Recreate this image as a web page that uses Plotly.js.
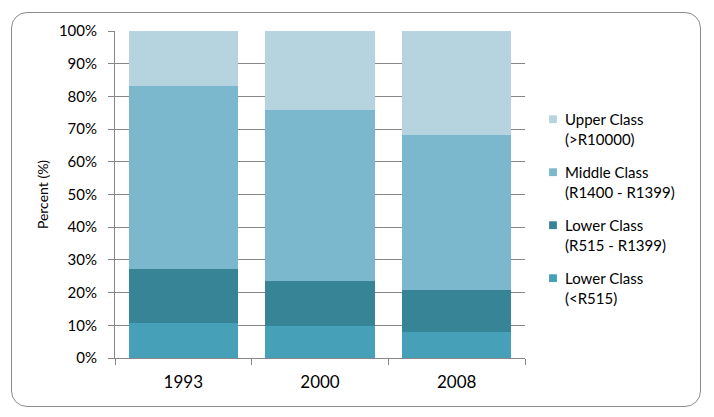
<!DOCTYPE html>
<html><head><meta charset="utf-8">
<script src="https://cdn.plot.ly/plotly-3.0.1.min.js"></script>
<style>
html,body{margin:0;padding:0;background:#fff;}
#frame{position:absolute;left:11px;top:12px;width:690px;height:395px;border:1px solid #8c8c8c;border-radius:16px;box-sizing:border-box;}
#chart{position:absolute;left:0;top:0;width:714px;height:417px;}
</style></head>
<body>
<div id="frame"></div>
<div id="chart"></div>
<script>
const years = ["1993", "2000", "2008"];
const lowerPoor = [10.7, 9.8, 8.0];
const lowerMid = [16.5, 13.7, 12.8];
const middle = [55.9, 52.3, 47.4];
const upper = [16.9, 24.2, 31.8];
const seriesNames = ["Lower Class<br>(<R515)", "Lower Class<br>(R515 - R1399)", "Middle Class<br>(R1400 - R1399)", "Upper Class<br>(>R10000)"];
const seriesColors = ["#46A0B8", "#388497", "#7BB8CE", "#B5D4DF"];
const seriesValues = [lowerPoor, lowerMid, middle, upper];
const yTickVals = [0,10,20,30,40,50,60,70,80,90,100];
const yTickText = yTickVals.map(v => v + "%");

const traces = seriesValues.map((vals, i) => ({
  type: "bar", x: years, y: vals, name: seriesNames[i],
  marker: {color: seriesColors[i], line: {width: 0}},
  legendgroup: "g" + i, legendrank: 10 - i, hoverinfo: "none"
}));

const font = "Lato, 'Open Sans', sans-serif";
const layout = {
  width: 714, height: 417,
  paper_bgcolor: "rgba(0,0,0,0)", plot_bgcolor: "rgba(0,0,0,0)",
  margin: {l: 115, r: 189, t: 31, b: 59},
  barmode: "stack", bargap: 0.2,
  font: {family: font, color: "#000"},
  showlegend: true,
  legend: {x: 1.0, xanchor: "left", y: 0.78, yanchor: "top",
    traceorder: "grouped", tracegroupgap: 11, valign: "top",
    font: {size: 15, family: font, color: "#000"}, itemwidth: 30},
  xaxis: {type: "category", showline: true, linecolor: "#878787", linewidth: 1,
    ticks: "outside", tickson: "boundaries", ticklen: 6, tickcolor: "#878787",
    ticklabelstandoff: 9,
    tickfont: {size: 17, family: font}, showgrid: false, zeroline: false, fixedrange: true},
  yaxis: {range: [0, 100], tickvals: yTickVals, ticktext: yTickText,
    showline: true, linecolor: "#878787", linewidth: 1,
    ticks: "outside", ticklen: 6, tickcolor: "#878787",
    showgrid: true, gridcolor: "#878787", gridwidth: 1, zeroline: false,
    tickfont: {size: 15, family: font}, ticklabelstandoff: 8,
    title: {text: "Percent (%)", font: {size: 14, family: font}, standoff: 6}, fixedrange: true}
};
Plotly.newPlot("chart", traces, layout, {displayModeBar: false, staticPlot: true}).then(gd => {
  gd.querySelectorAll(".legend .legendpoints path").forEach(p => {
    p.setAttribute("transform", "translate(28,0) scale(0.65)");
  });
});
</script>
</body></html>
